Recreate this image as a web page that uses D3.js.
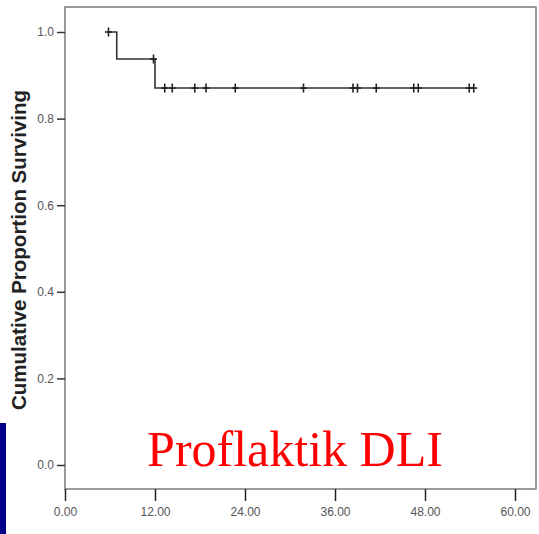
<!DOCTYPE html>
<html>
<head>
<meta charset="utf-8">
<script src="https://cdn.jsdelivr.net/npm/d3@7"></script>
<style>
  html, body { margin: 0; padding: 0; background: #ffffff; }
  svg { display: block; }
</style>
</head>
<body>
<svg id="chart" width="539" height="534"></svg>
<script>
// ---- data ----
const stepTimes    = [5.8, 6.9, 12.0];          // start of each step (first obs, events)
const stepSurvival = [1.0, 0.9375, 0.8705];     // cumulative proportion surviving on each step
const lastTime     = 54.5;                      // end of follow-up
const censorTimes    = [5.8, 11.8, 13.3, 14.3, 17.3, 18.8, 22.7, 31.8, 38.4, 39.0, 41.5, 46.5, 47.1, 53.9, 54.5];
const censorSurvival = [1.0, 0.9375, 0.8705, 0.8705, 0.8705, 0.8705, 0.8705, 0.8705, 0.8705, 0.8705, 0.8705, 0.8705, 0.8705, 0.8705, 0.8705];
const xTicks = [0, 12, 24, 36, 48, 60];
const yTicks = [0.0, 0.2, 0.4, 0.6, 0.8, 1.0];
const yTitle = "Cumulative Proportion Surviving";
const overlayText = "Proflaktik DLI";

// ---- layout ----
const svg = d3.select("#chart");
const frame = { left: 65, right: 536, top: 7, bottom: 489 };

const x = d3.scaleLinear().domain([0, 60]).range([65, 515]);
const y = d3.scaleLinear().domain([0, 1]).range([465, 32]);

// navy bar at left bottom
svg.append("rect").attr("x", 0).attr("y", 423).attr("width", 6).attr("height", 111).attr("fill", "#00008b");

// frame
svg.append("rect")
  .attr("x", frame.left).attr("y", frame.top)
  .attr("width", frame.right - frame.left).attr("height", frame.bottom - frame.top)
  .attr("fill", "none").attr("stroke", "#7a7a7a").attr("stroke-width", 1.5);

// y axis
const yAxis = d3.axisLeft(y).tickValues(yTicks).tickSize(8).tickPadding(3).tickFormat(d3.format(".1f"));
const gy = svg.append("g").attr("transform", `translate(${frame.left},0)`).call(yAxis);
gy.select(".domain").remove();
gy.selectAll(".tick line").attr("stroke", "#333").attr("stroke-width", 1.5);
gy.selectAll(".tick text").attr("fill", "#555").attr("font-family", "Liberation Sans, Arial, sans-serif").attr("font-size", 12);

// x axis
const xAxis = d3.axisBottom(x).tickValues(xTicks).tickSize(12).tickPadding(6).tickFormat(d3.format(".2f"));
const gx = svg.append("g").attr("transform", `translate(0,${frame.bottom})`).call(xAxis);
gx.select(".domain").remove();
gx.selectAll(".tick line").attr("stroke", "#222").attr("stroke-width", 1.5);
gx.selectAll(".tick text").attr("fill", "#555").attr("font-family", "Liberation Sans, Arial, sans-serif").attr("font-size", 12);

// y title
svg.append("text")
  .attr("transform", "translate(26,250) rotate(-90)")
  .attr("text-anchor", "middle")
  .attr("font-family", "Liberation Sans, Arial, sans-serif")
  .attr("font-weight", "bold").attr("font-size", 20.5)
  .attr("fill", "#222")
  .text(yTitle);

// survival step curve
const pts = stepTimes.map((t, i) => [t, stepSurvival[i]]);
pts.push([lastTime, stepSurvival[stepSurvival.length - 1]]);
const line = d3.line().x(d => x(d[0])).y(d => y(d[1])).curve(d3.curveStepAfter);
svg.append("path").datum(pts).attr("d", line)
  .attr("fill", "none").attr("stroke", "#333").attr("stroke-width", 1.6);

// censor marks
const cens = svg.append("g");
censorTimes.forEach((t, i) => {
  const cx = x(t), cy = y(censorSurvival[i]);
  cens.append("line").attr("x1", cx).attr("x2", cx).attr("y1", cy - 4.5).attr("y2", cy + 4.5)
    .attr("stroke", "#222").attr("stroke-width", 1.6);
  cens.append("line").attr("x1", cx - 3.5).attr("x2", cx + 3.5).attr("y1", cy).attr("y2", cy)
    .attr("stroke", "#222").attr("stroke-width", 1.6);
});

// overlay red label
svg.append("text")
  .attr("x", 295).attr("y", 466)
  .attr("text-anchor", "middle")
  .attr("font-family", "Liberation Serif, Times New Roman, serif")
  .attr("font-size", 50).attr("fill", "#ff0000")
  .text(overlayText);
</script>
</body>
</html>
